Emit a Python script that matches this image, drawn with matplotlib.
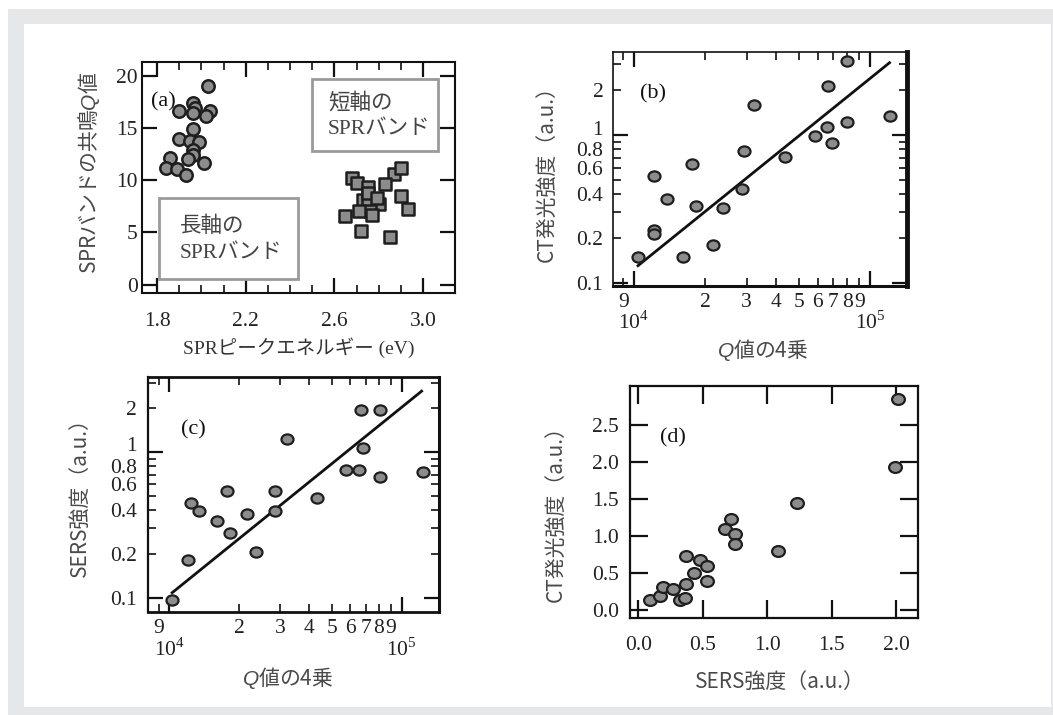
import numpy as np
import matplotlib
matplotlib.use("Agg")
import matplotlib.pyplot as plt
from matplotlib.patches import Rectangle
from matplotlib.path import Path
from matplotlib.ticker import FixedLocator, FixedFormatter, NullFormatter

# ---------------- data ----------------
# (a) resonance Q versus SPR peak energy
long_band_energy = [2.03, 1.90, 1.96, 1.97, 1.96, 2.04, 2.02, 1.96, 1.90, 1.95,
                    1.99, 1.96, 1.96, 1.86, 1.94, 1.84, 1.89, 2.01, 1.93]
long_band_q = [19.0, 16.6, 17.4, 16.9, 16.4, 16.6, 16.1, 14.9, 13.9, 13.7,
               13.6, 12.9, 12.4, 12.1, 12.0, 11.2, 11.1, 11.6, 10.5]
short_band_energy = [2.68, 2.70, 2.75, 2.87, 2.90, 2.83, 2.90, 2.93, 2.73, 2.75,
                     2.80, 2.76, 2.71, 2.65, 2.72, 2.85, 2.75, 2.79, 2.77]
short_band_q = [10.2, 9.7, 9.3, 10.6, 11.2, 9.6, 8.5, 7.2, 8.1, 7.8,
                7.7, 7.0, 7.0, 6.6, 5.1, 4.6, 8.8, 8.3, 6.7]

# (b) CT emission intensity versus Q^4
q4_b = [1.04e4, 1.22e4, 1.22e4, 1.22e4, 1.38e4, 1.61e4, 1.77e4, 1.83e4, 2.17e4,
        2.39e4, 2.88e4, 2.93e4, 3.21e4, 4.37e4, 5.85e4, 6.55e4, 6.65e4, 6.88e4,
        8.02e4, 8.02e4, 1.22e5]
ct_b = [0.149, 0.531, 0.228, 0.214, 0.368, 0.149, 0.637, 0.331, 0.181,
        0.320, 0.430, 0.78, 1.59, 0.707, 0.99, 1.13, 2.14, 0.887,
        1.22, 3.18, 1.35]
fit_b_x = [1.04e4, 1.21e5]
fit_b_y = [0.131, 3.08]

# (c) SERS intensity versus Q^4
q4_c = [1.03e4, 1.21e4, 1.24e4, 1.35e4, 1.60e4, 1.77e4, 1.83e4, 2.17e4, 2.36e4,
        2.86e4, 2.86e4, 3.20e4, 4.31e4, 5.77e4, 6.58e4, 6.67e4, 6.84e4, 8.07e4,
        8.07e4, 1.24e5]
sers_c = [0.096, 0.182, 0.445, 0.392, 0.334, 0.538, 0.278, 0.376, 0.207,
          0.538, 0.396, 1.24, 0.482, 0.756, 0.756, 1.96, 1.07, 1.96,
          0.68, 0.728]
fit_c_x = [1.03e4, 1.22e5]
fit_c_y = [0.108, 2.63]

# (d) CT emission intensity versus SERS intensity
sers_d = [0.09, 0.17, 0.19, 0.27, 0.32, 0.36, 0.37, 0.37, 0.43, 0.48,
          0.53, 0.53, 0.67, 0.715, 0.75, 0.75, 1.08, 1.23, 1.99, 2.01]
ct_d = [0.135, 0.19, 0.31, 0.28, 0.135, 0.16, 0.35, 0.73, 0.50, 0.67,
        0.59, 0.39, 1.09, 1.23, 1.02, 0.89, 0.80, 1.45, 1.93, 2.85]

# tick labels
log_minor_x = [9e3, 2e4, 3e4, 4e4, 5e4, 6e4, 7e4, 8e4, 9e4]
log_minor_x_labels = ["9", "2", "3", "4", "5", "6", "7", "8", "9"]
log_minor_y = [0.2, 0.3, 0.4, 0.5, 0.6, 0.7, 0.8, 0.9, 2, 3]
log_minor_y_labels = ["0.2", "", "0.4", "", "0.6", "", "0.8", "", "2", ""]

# ---------------- style ----------------
plt.rcParams["mathtext.fontset"] = "custom"
plt.rcParams["mathtext.rm"] = "Liberation Serif"
plt.rcParams["mathtext.it"] = "Liberation Sans:italic"

W, H = 1053, 715
fig = plt.figure(figsize=(W / 100, H / 100), dpi=100)
fig.patch.set_facecolor("white")

# grey page frame with white panel
fig.add_artist(Rectangle((8 / W, 0), 1 - 8 / W, 1 - 9 / H, transform=fig.transFigure,
                         facecolor="#e6e7e9", edgecolor="none", zorder=-10))
fig.add_artist(Rectangle((24 / W, 8 / H), 1027 / W, 683 / H, transform=fig.transFigure,
                         facecolor="white", edgecolor="none", zorder=-9))

SERIF = ["Liberation Serif", "Noto Sans CJK JP"]
SANS = ["Noto Sans CJK JP", "DejaVu Sans"]
TICK_FS = 15.5
LABEL_FS = 15
LABEL_COLOR = "#4a4a4a"
TICK_COLOR = "#222222"
FILL = "#8c8c8c"
EDGE = "#1e1e1e"

ellipse = Path(Path.unit_circle().vertices * np.array([1.18, 1.0]),
               Path.unit_circle().codes)


def make_axes(left, top, right, bottom):
    return fig.add_axes([left / W, 1 - bottom / H, (right - left) / W, (bottom - top) / H])


def style_ticks(ax):
    ax.tick_params(which="major", direction="in", length=11, width=1.6,
                   top=True, right=True, colors="#111111", labelsize=TICK_FS)
    ax.tick_params(which="minor", direction="in", length=6, width=1.2,
                   top=True, right=True, colors="#111111", labelsize=TICK_FS)
    for lab in ax.get_xticklabels(which="both") + ax.get_yticklabels(which="both"):
        lab.set_fontfamily(SERIF)
        lab.set_color(TICK_COLOR)


def set_spines(ax, lw):
    for side, w in zip(["left", "right", "top", "bottom"], lw):
        ax.spines[side].set_linewidth(w)
        ax.spines[side].set_color("#111111")


def log_axes(ax, xlim, ylim, ypad, one_shift):
    ax.set_xscale("log")
    ax.set_yscale("log")
    ax.set_xlim(*xlim)
    ax.set_ylim(*ylim)
    ax.xaxis.set_major_locator(FixedLocator([1e4, 1e5]))
    ax.xaxis.set_major_formatter(NullFormatter())
    ax.xaxis.set_minor_locator(FixedLocator(log_minor_x))
    ax.xaxis.set_minor_formatter(FixedFormatter(log_minor_x_labels))
    ax.yaxis.set_major_locator(FixedLocator([0.1, 1]))
    ax.yaxis.set_major_formatter(FixedFormatter(["0.1", ""]))
    ax.yaxis.set_minor_locator(FixedLocator(log_minor_y))
    ax.yaxis.set_minor_formatter(FixedFormatter(log_minor_y_labels))
    ax.tick_params(axis="x", which="both", pad=5)
    ax.tick_params(axis="y", which="both", pad=ypad)
    style_ticks(ax)
    # the "1" label sits a little above its tick so it clears "0.8"
    ax.annotate("1", xy=(0, 1), xycoords=ax.get_yaxis_transform(),
                xytext=(-ypad, one_shift), textcoords="offset points",
                ha="right", va="center", fontsize=TICK_FS, family=SERIF,
                color=TICK_COLOR, annotation_clip=False)
    tr = ax.get_xaxis_transform()
    for val, txt in [(1e4, "10$^{4}$"), (1e5, "10$^{5}$")]:
        ax.text(val, -0.158, txt, transform=tr, ha="center", va="center",
                fontsize=TICK_FS, family=SERIF, color=TICK_COLOR)


# ---------------- (a) ----------------
ax = make_axes(142, 62, 455, 293)
ax.scatter(long_band_energy, long_band_q, s=80, marker="o", facecolor=FILL,
           edgecolor=EDGE, linewidth=1.8, zorder=3)
ax.scatter(short_band_energy, short_band_q, s=85, marker="s", facecolor=FILL,
           edgecolor=EDGE, linewidth=1.8, zorder=3)
ax.set_xlim(1.732, 3.144)
ax.set_ylim(-0.8, 21.3)
ax.set_xticks([1.8, 2.2, 2.6, 3.0])
ax.set_xticklabels(["1.8", "2.2", "2.6", "3.0"])
ax.set_xticks([1.9, 2.0, 2.1, 2.3, 2.4, 2.5, 2.7, 2.8, 2.9], minor=True)
ax.set_yticks([0, 5, 10, 15, 20])
ax.tick_params(axis="x", pad=14)
ax.tick_params(axis="y", pad=3)
style_ticks(ax)
set_spines(ax, [1.5, 1.5, 1.5, 1.5])
ax.set_xlabel("SPRピークエネルギー (eV)", family=SERIF, fontsize=14, color="#333333")
ax.xaxis.set_label_coords(0.5, -44 / 231)
ax.set_ylabel("SPRバンドの共鳴$Q$値", family=SANS, fontsize=LABEL_FS, color=LABEL_COLOR)
ax.yaxis.set_label_coords(-40 / 313, 0.52)
ax.text(0.03, 0.828, "(a)", transform=ax.transAxes, fontsize=16, family=SERIF,
        ha="left", va="center", color="#111111")
for (x0, y0, x1, y1), lines, tx, ty in [
        ((0.542, 0.615, 0.945, 0.925), ["短軸の", "SPRバンド"], 0.594, (0.821, 0.706)),
        ((0.054, 0.059, 0.499, 0.413), ["長軸の", "SPRバンド"], 0.121, (0.287, 0.172))]:
    ax.add_patch(Rectangle((x0, y0), x1 - x0, y1 - y0, transform=ax.transAxes,
                           facecolor="white", edgecolor="#9a9a9a", linewidth=2.0, zorder=2))
    for line, yy in zip(lines, ty):
        ax.text(tx, yy, line, transform=ax.transAxes, family=SERIF, fontsize=15.5,
                ha="left", va="center", color="#444444", zorder=4)

# ---------------- (b) ----------------
ax = make_axes(613, 52, 907, 286)
ax.plot(fit_b_x, fit_b_y, color="#111111", linewidth=2.0, zorder=2)
ax.scatter(q4_b, ct_b, s=75, marker=ellipse, facecolor=FILL, edgecolor=EDGE,
           linewidth=1.6, zorder=3)
log_axes(ax, (8.15e3, 1.435e5), (0.0955, 3.64), ypad=7, one_shift=3)
set_spines(ax, [1.2, 3.5, 1.2, 2.2])
ax.set_xlabel("$Q$値の4乗", family=SANS, fontsize=LABEL_FS, color=LABEL_COLOR)
ax.xaxis.set_label_coords(0.51, -51 / 234)
ax.set_ylabel("CT発光強度（a.u.）", family=SANS, fontsize=LABEL_FS, color=LABEL_COLOR)
ax.yaxis.set_label_coords(-54 / 294, 0.5)
ax.text(0.137, 0.823, "(b)", transform=ax.transAxes, fontsize=16, family=SERIF,
        ha="center", va="center", color="#111111")

# ---------------- (c) ----------------
ax = make_axes(148, 377, 439, 612)
ax.plot(fit_c_x, fit_c_y, color="#111111", linewidth=2.0, zorder=2)
ax.scatter(q4_c, sers_c, s=75, marker=ellipse, facecolor=FILL, edgecolor=EDGE,
           linewidth=1.6, zorder=3)
log_axes(ax, (8.11e3, 1.449e5), (0.0796, 3.29), ypad=8, one_shift=4)
set_spines(ax, [1.6, 2.2, 2.0, 2.0])
ax.set_xlabel("$Q$値の4乗", family=SANS, fontsize=LABEL_FS, color=LABEL_COLOR)
ax.xaxis.set_label_coords(0.48, -53 / 235)
ax.set_ylabel("SERS強度（a.u.）", family=SANS, fontsize=LABEL_FS, color=LABEL_COLOR)
ax.yaxis.set_label_coords(-56 / 291, 0.51)
ax.text(0.155, 0.775, "(c)", transform=ax.transAxes, fontsize=16, family=SERIF,
        ha="center", va="center", color="#111111")

# ---------------- (d) ----------------
ax = make_axes(630, 386, 918, 618)
ax.scatter(sers_d, ct_d, s=85, marker=ellipse, facecolor=FILL, edgecolor=EDGE,
           linewidth=1.6, zorder=3)
ax.set_xlim(-0.064, 2.167)
ax.set_ylim(-0.112, 3.027)
ax.set_xticks([0.0, 0.5, 1.0, 1.5, 2.0])
ax.set_xticklabels(["0.0", "0.5", "1.0", "1.5", "2.0"])
ax.set_yticks([0.0, 0.5, 1.0, 1.5, 2.0, 2.5])
ax.set_yticklabels(["0.0", "0.5", "1.0", "1.5", "2.0", "2.5"])
ax.tick_params(axis="x", pad=13)
ax.tick_params(axis="y", pad=8)
style_ticks(ax)
ax.tick_params(which="major", length=13)
set_spines(ax, [1.6, 1.6, 1.6, 1.6])
ax.set_xlabel("SERS強度（a.u.）", family=SANS, fontsize=LABEL_FS, color=LABEL_COLOR)
ax.xaxis.set_label_coords(0.52, -54 / 232)
ax.set_ylabel("CT発光強度（a.u.）", family=SANS, fontsize=LABEL_FS, color=LABEL_COLOR)
ax.yaxis.set_label_coords(-62 / 288, 0.47)
ax.text(0.148, 0.775, "(d)", transform=ax.transAxes, fontsize=16, family=SERIF,
        ha="center", va="center", color="#111111")

fig.savefig("out.png", dpi=100)
